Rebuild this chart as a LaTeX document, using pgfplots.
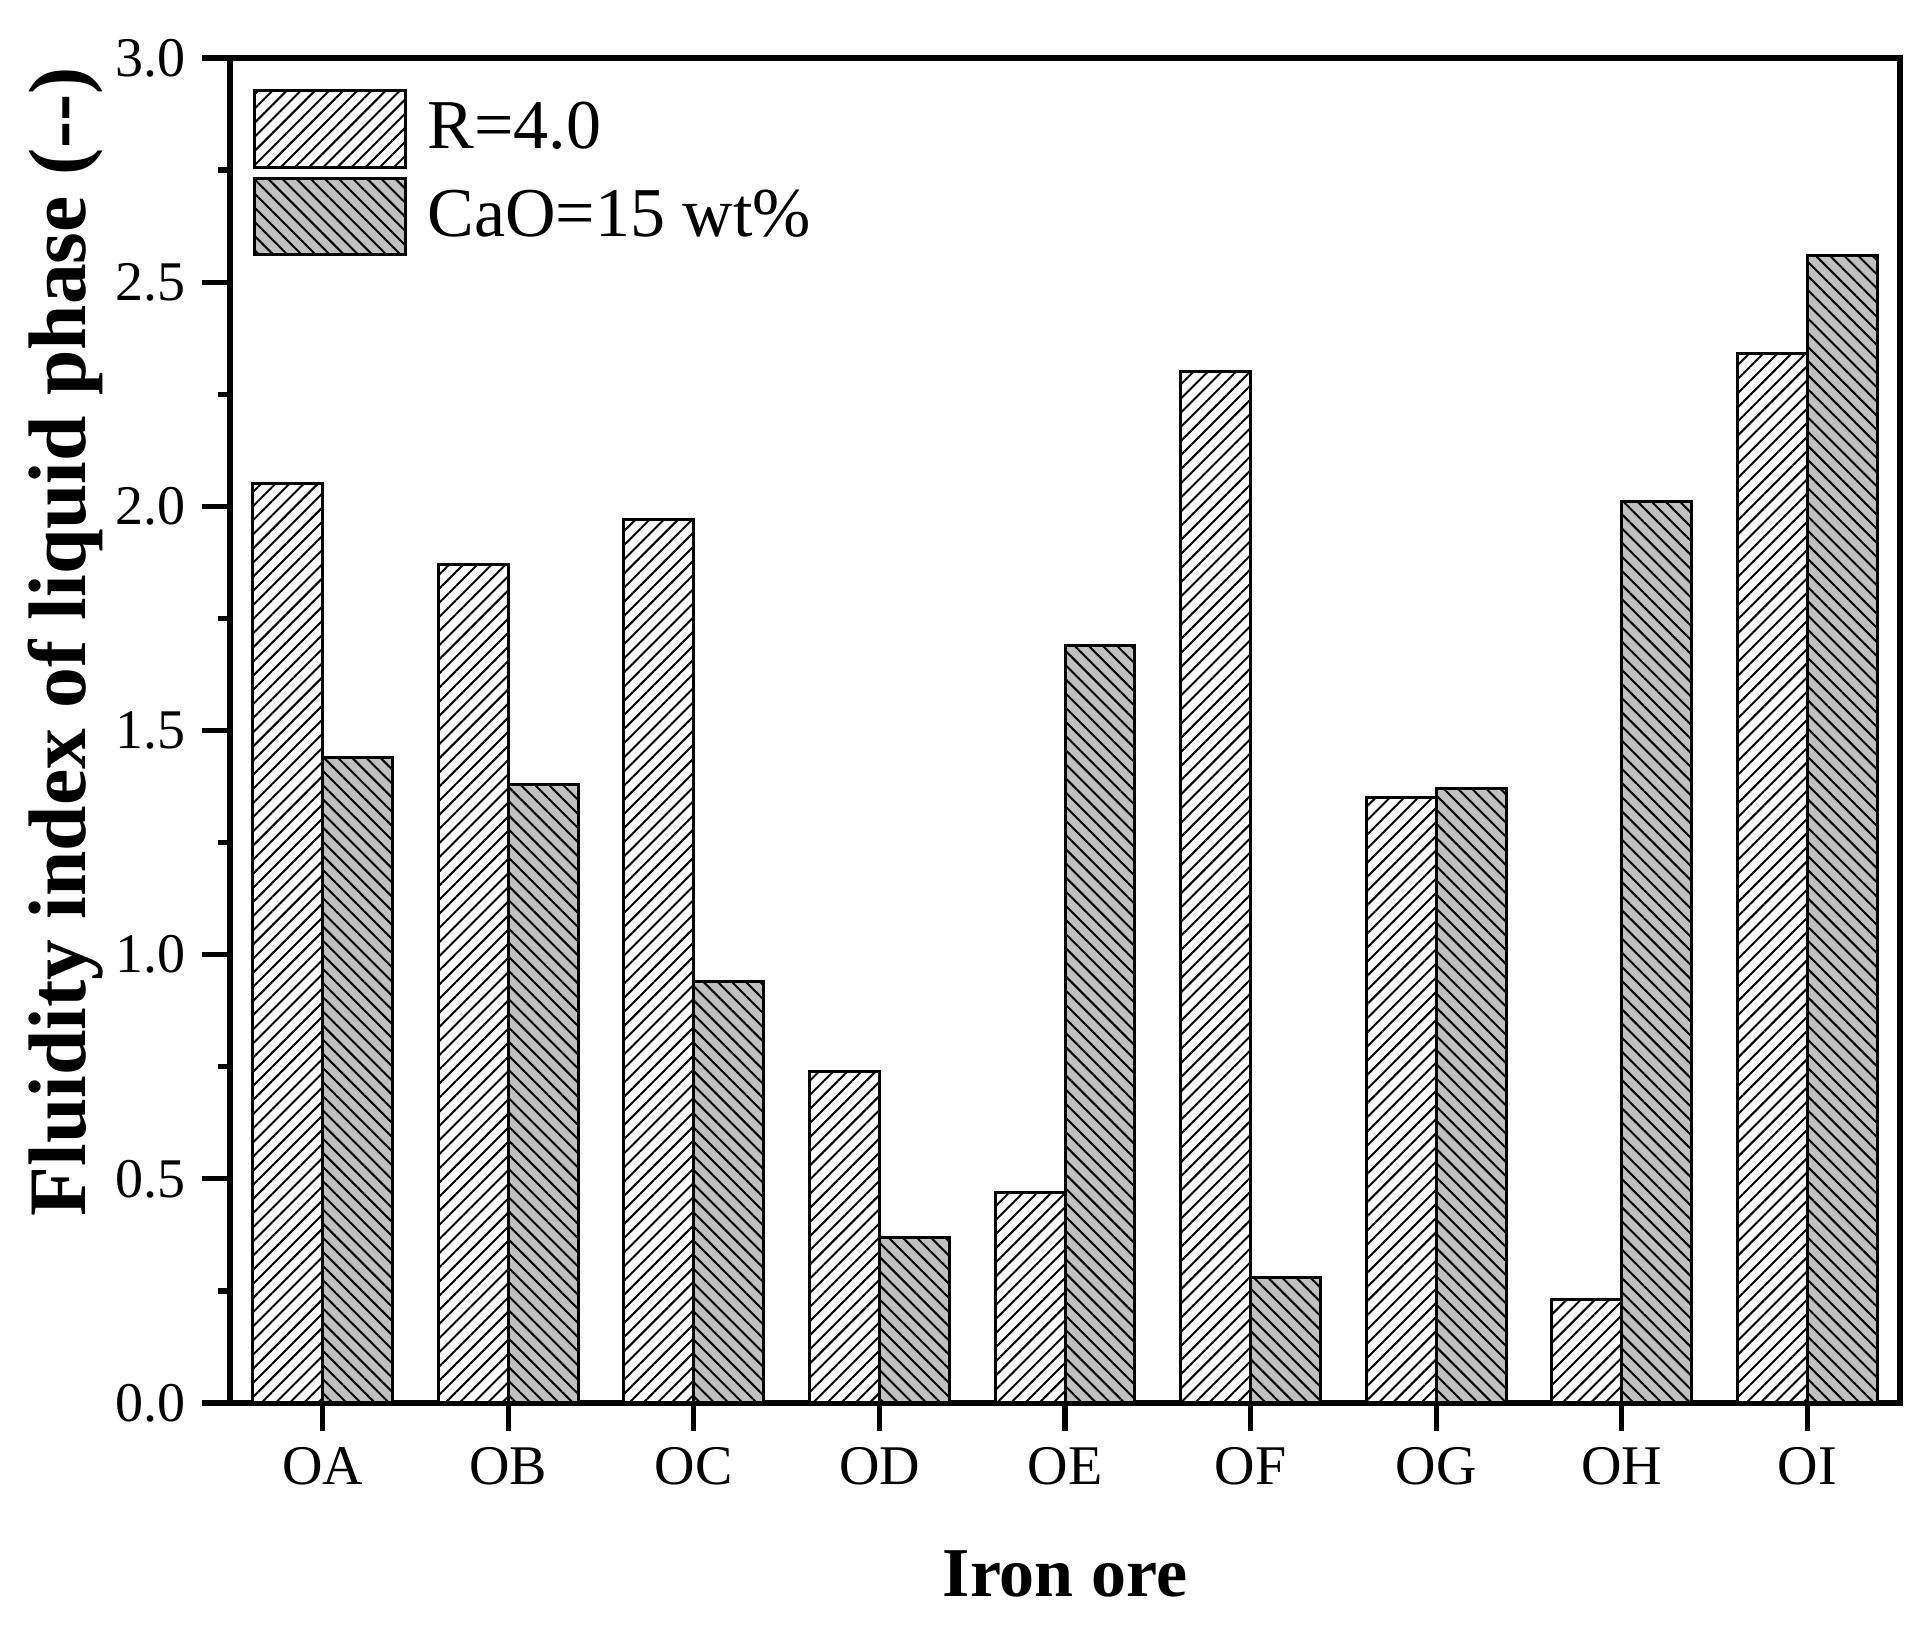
\documentclass[border=0pt]{standalone}
\usepackage{pgfplots}
\pgfplotsset{compat=1.18}
\usepackage{fontspec}
\setmainfont{Liberation Serif}
\usetikzlibrary{patterns.meta}
\definecolor{barg}{RGB}{192,192,192}
\begin{document}
\begin{tikzpicture}
\begin{axis}[
  scale only axis,
  width=417.5pt, height=336.25pt,
  xmin=-0.5, xmax=8.5,
  ymin=0, ymax=3,
  xtick={0,1,2,3,4,5,6,7,8},
  xticklabels={OA,OB,OC,OD,OE,OF,OG,OH,OI},
  ytick={0,0.5,1,1.5,2,2.5,3},
  minor ytick={0.25,0.75,1.25,1.75,2.25,2.75},
  tick pos=left,
  tick align=outside,
  major tick length=6.9pt,
  minor tick length=3pt,
  every tick/.style={black, line width=1.3pt},
  axis line style={line width=1.3pt},
  yticklabel style={/pgf/number format/fixed, /pgf/number format/fixed zerofill, /pgf/number format/precision=1, /pgf/number format/assume math mode=true, xshift=-2pt},
  xticklabel style={yshift=-2pt},
  tick label style={font=\fontsize{14}{17}\selectfont},
  ticklabel style={inner sep=2pt},
  xlabel={\textbf{Iron ore}},
  ylabel={\textbf{Fluidity index of liquid phase (-{}-)}},
  xlabel style={at={(rel axis cs:0.5,-0.1440)}, anchor=base, font=\fontsize{17.5}{20}\selectfont},
  ylabel style={at={(rel axis cs:-0.0982,0.566)}, anchor=center, rotate=0, font=\fontsize{20.4}{23}\selectfont},
  legend image code/.code={\draw[#1] (0pt,-9.6pt) rectangle (37.75pt,9.6pt);},
  legend style={at={(rel axis cs:0,1)}, anchor=north west, xshift=5.5pt, yshift=-7.5pt,
    draw=none, fill=none, inner sep=0pt, row sep=2pt, column sep=5.2pt,
    font=\fontsize{17.5}{20}\selectfont,
    nodes={inner sep=0pt}},
  legend cell align=left,
  clip=false,
]
\addplot[ybar, bar width=0.377, bar shift=-0.1885, draw=black, line width=0.75pt, fill=white,
  postaction={pattern={Lines[angle=45,distance=2.5pt,line width=0.5pt]}, pattern color=black}]
  coordinates {(0,2.05) (1,1.87) (2,1.97) (3,0.74) (4,0.47) (5,2.30) (6,1.35) (7,0.23) (8,2.34)};
\addlegendentry{R=4.0}
\addplot[ybar, bar width=0.377, bar shift=0.1885, draw=black, line width=0.75pt, fill=barg,
  postaction={pattern={Lines[angle=-45,distance=2.5pt,line width=0.5pt]}, pattern color=black}]
  coordinates {(0,1.44) (1,1.38) (2,0.94) (3,0.37) (4,1.69) (5,0.28) (6,1.37) (7,2.01) (8,2.56)};
\addlegendentry{CaO=15 wt\%}
\coordinate (o) at (rel axis cs:0,0);
\end{axis}
\path (o) ++(-57.5pt,-58.25pt) rectangle ++(481.25pt,409pt);
\end{tikzpicture}
\end{document}
